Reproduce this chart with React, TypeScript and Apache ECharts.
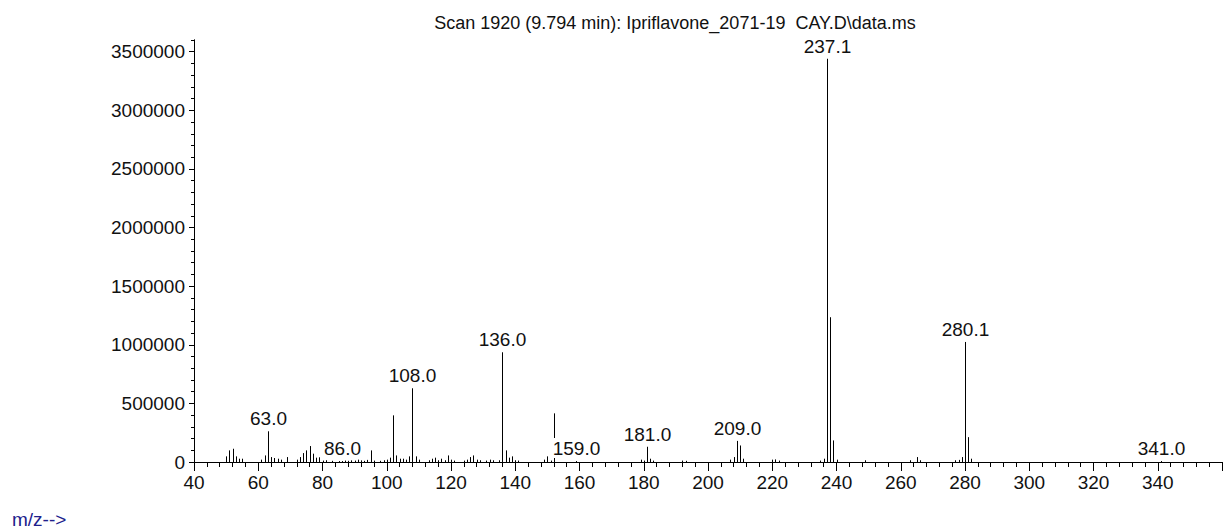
import React, { useEffect, useRef } from "react";
import * as echarts from "echarts";

const TITLE = "Scan 1920 (9.794 min): Ipriflavone_2071-19  CAY.D\\data.ms";
const X_AXIS_NAME = "m/z-->";

const peakMz: number[] = [
  50, 51, 52, 53, 54, 55, 61, 62, 63, 64, 65, 66, 67, 69, 72, 73, 74, 75, 76, 77, 78, 79,
  80, 81, 83, 85, 86, 87, 88, 89, 90, 91, 92, 93, 94, 95, 96, 98, 99, 100, 101, 102, 103,
  104, 105, 106, 107, 108, 109, 110, 113, 114, 115, 116, 117, 118, 119, 120, 121, 124, 125,
  126, 127, 128, 129, 131, 132, 133, 135, 136, 137, 138, 139, 140, 141, 149, 150, 151, 152,
  159, 179, 180, 181, 182, 183, 192, 193, 207, 208, 209, 210, 211, 220, 221, 222, 235, 236,
  237, 238, 239, 240, 249, 263, 265, 266, 277, 278, 279, 280, 281, 282, 341,
];
const peakIntensity: number[] = [
  48000, 99000, 113000, 48000, 28000, 28000, 20000, 56000, 262000, 42000, 34000, 28000, 20000, 42000, 20000, 42000, 76000, 99000, 136000, 71000, 37000, 40000,
  12000, 15000, 10000, 8000, 8000, 12000, 10000, 14000, 12000, 20000, 14000, 10000, 18000, 99000, 12000, 10000, 15000, 20000, 37000, 398000, 56000,
  28000, 28000, 20000, 48000, 629000, 48000, 20000, 15000, 28000, 37000, 15000, 28000, 15000, 56000, 20000, 12000, 12000, 20000,
  42000, 56000, 20000, 15000, 12000, 20000, 15000, 15000, 936000, 99000, 37000, 48000, 15000, 12000, 20000, 48000, 12000, 415000,
  8000, 20000, 12000, 130000, 28000, 12000, 12000, 10000, 20000, 42000, 180000, 141000, 28000, 20000, 22000, 12000, 12000, 28000,
  3440000, 1235000, 184000, 20000, 15000, 15000, 42000, 15000, 15000, 18000, 42000, 1024000, 212000, 28000, 8000,
];

const labelMz: number[] = [63, 86, 108, 136, 159, 181, 209, 237, 280, 341];
const labelText: string[] = ["63.0", "86.0", "108.0", "136.0", "159.0", "181.0", "209.0", "237.1", "280.1", "341.0"];

const FONT = '"Liberation Sans", Arial, sans-serif';

export default function App() {
  const ref = useRef<HTMLDivElement>(null);
  useEffect(() => {
    if (!ref.current) return;
    const chart = echarts.init(ref.current, undefined, { renderer: "svg" });
    const labelMap = new Map<number, string>();
    labelMz.forEach((m, i) => labelMap.set(m, labelText[i]));
    const data = peakMz.map((m, i) => [m, peakIntensity[i]]);

    chart.setOption({
      animation: false,
      backgroundColor: "#fff",
      grid: { left: 194, right: 4, top: 40, bottom: 67, containLabel: false },
      graphic: [
        {
          type: "text",
          x: 675,
          y: 23,
          style: {
            text: TITLE,
            textAlign: "center",
            textVerticalAlign: "middle",
            font: `18px ${FONT}`,
            fill: "#111",
          },
        },
        {
          type: "text",
          x: 12,
          y: 519,
          style: {
            text: X_AXIS_NAME,
            textAlign: "left",
            textVerticalAlign: "middle",
            font: `19px ${FONT}`,
            fill: "#20208c",
          },
        },
      ],
      xAxis: {
        type: "value",
        min: 40,
        max: 360,
        interval: 20,
        axisLine: { show: true, onZero: false, lineStyle: { color: "#000", width: 1 } },
        axisTick: { show: true, length: 9, lineStyle: { color: "#000", width: 1 } },
        minorTick: { show: true, splitNumber: 5, length: 5, lineStyle: { color: "#000", width: 1 } },
        axisLabel: {
          showMaxLabel: false,
          margin: 11,
          fontSize: 19,
          fontFamily: FONT,
          color: "#111",
          formatter: (v: number) => String(v),
        },
        splitLine: { show: false },
        minorSplitLine: { show: false },
      },
      yAxis: [
        {
          type: "value",
          min: 0,
          max: 3600000,
          interval: 100000,
          position: "left",
          axisLine: { show: true, lineStyle: { color: "#000", width: 1 } },
          axisTick: { show: true, length: 3, lineStyle: { color: "#000", width: 1 } },
          axisLabel: { show: false },
          splitLine: { show: false },
        },
        {
          type: "value",
          min: 0,
          max: 3600000,
          interval: 500000,
          position: "left",
          axisLine: { show: true, lineStyle: { color: "#000", width: 1 } },
          axisTick: { show: true, length: 5, lineStyle: { color: "#000", width: 1 } },
          axisLabel: {
            showMaxLabel: false,
            margin: 9,
            fontSize: 19,
            fontFamily: FONT,
            color: "#111",
            formatter: (v: number) => String(v),
          },
          splitLine: { show: false },
        },
      ],
      series: [
        {
          type: "custom",
          xAxisIndex: 0,
          yAxisIndex: 0,
          encode: { x: 0, y: 1 },
          data,
          renderItem: (params: any, api: any) => {
            const mz = api.value(0) as number;
            const inten = api.value(1) as number;
            const base = api.coord([mz, 0]);
            const top = api.coord([mz, inten]);
            const x = Math.round(base[0]) + 0.5;
            const children: any[] = [
              {
                type: "line",
                shape: { x1: x, y1: base[1], x2: x, y2: top[1] },
                style: { stroke: "#000", lineWidth: 1 },
              },
            ];
            const lbl = labelMap.get(mz);
            if (lbl) {
              children.push({
                type: "text",
                z2: 10,
                x: x,
                y: top[1] - 3,
                style: {
                  text: lbl,
                  textAlign: "center",
                  textVerticalAlign: "bottom",
                  font: `19px ${FONT}`,
                  fill: "#111",
                  backgroundColor: "#fff",
                  padding: [1, 1, 0, 1],
                },
              });
            }
            return { type: "group", children };
          },
        },
      ],
    });
    return () => chart.dispose();
  }, []);
  return (
    <div
      ref={ref}
      style={{ position: "absolute", left: 0, top: 0, width: 1226, height: 529 }}
    />
  );
}
